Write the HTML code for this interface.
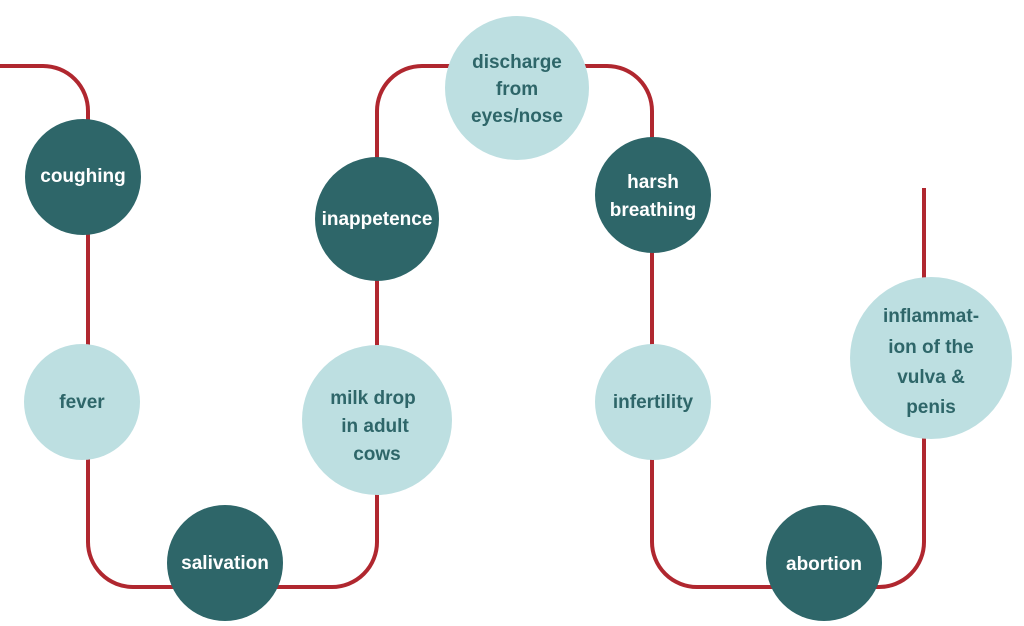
<!DOCTYPE html>
<html><head><style>body{margin:0;background:#fff}svg{display:block}</style></head><body>
<svg width="1024" height="626" viewBox="0 0 1024 626" xmlns="http://www.w3.org/2000/svg">
<path d="M0 66 H43 A45 45 0 0 1 88 111 V542 A45 45 0 0 0 133 587 H332 A45 45 0 0 0 377 542 V111 A45 45 0 0 1 422 66 H607 A45 45 0 0 1 652 111 V542 A45 45 0 0 0 697 587 H879 A45 45 0 0 0 924 542 V188" fill="none" stroke="#b0272f" stroke-width="4"/>
<g font-family="Liberation Sans, sans-serif" font-weight="bold" font-size="19" text-anchor="middle">
<circle cx="83" cy="177" r="58" fill="#2e6669"/>
<text x="83" y="182" fill="#fff">coughing</text>
<circle cx="82" cy="402" r="58" fill="#bddfe1"/>
<text x="82" y="408" fill="#2e6669">fever</text>
<circle cx="225" cy="563" r="58" fill="#2e6669"/>
<text x="225" y="569" fill="#fff">salivation</text>
<circle cx="377" cy="219" r="62" fill="#2e6669"/>
<text x="377" y="225" fill="#fff">inappetence</text>
<circle cx="377" cy="420" r="75" fill="#bddfe1"/>
<text fill="#2e6669"><tspan x="373" y="404">milk drop</tspan><tspan x="375" y="432">in adult</tspan><tspan x="377" y="460">cows</tspan></text>
<circle cx="517" cy="88" r="72" fill="#bddfe1"/>
<text fill="#2e6669"><tspan x="517" y="68">discharge</tspan><tspan x="517" y="95">from</tspan><tspan x="517" y="122">eyes/nose</tspan></text>
<circle cx="653" cy="195" r="58" fill="#2e6669"/>
<text fill="#fff"><tspan x="653" y="188">harsh</tspan><tspan x="653" y="216">breathing</tspan></text>
<circle cx="653" cy="402" r="58" fill="#bddfe1"/>
<text x="653" y="408" fill="#2e6669">infertility</text>
<circle cx="824" cy="563" r="58" fill="#2e6669"/>
<text x="824" y="570" fill="#fff">abortion</text>
<circle cx="931" cy="358" r="81" fill="#bddfe1"/>
<text fill="#2e6669"><tspan x="931" y="322">inflammat-</tspan><tspan x="931" y="353">ion of the</tspan><tspan x="931" y="383">vulva &amp;</tspan><tspan x="931" y="413">penis</tspan></text>
</g>
</svg>
</body></html>
